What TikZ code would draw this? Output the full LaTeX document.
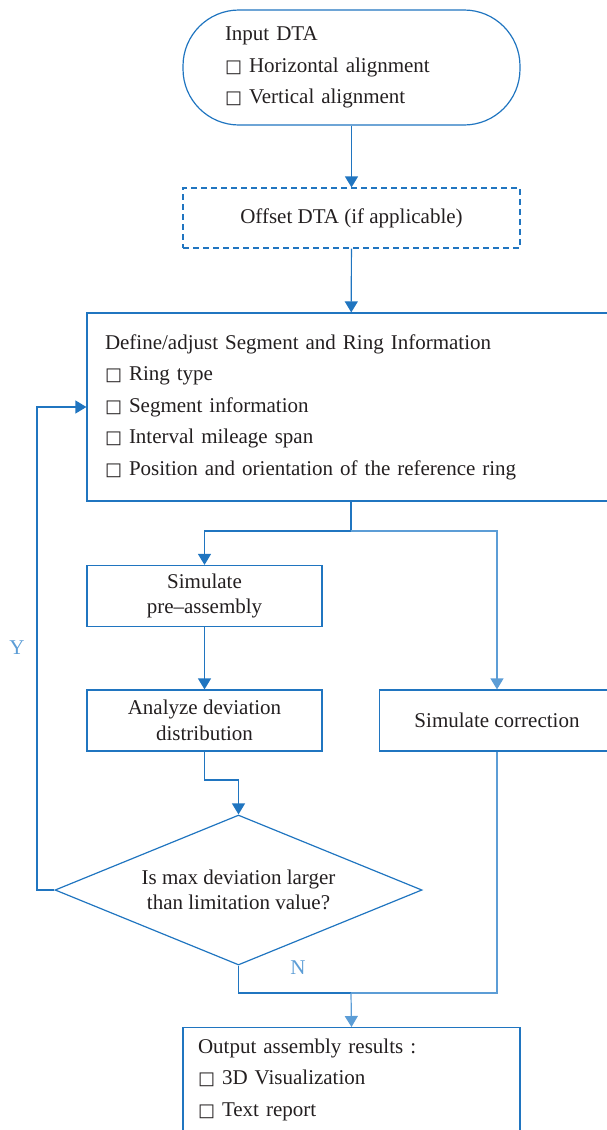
\documentclass[tikz,border=0pt]{standalone}
\usepackage{fontspec}
\setmainfont{Liberation Serif}
\newfontfamily\boxglyph{DejaVu Sans}
\usetikzlibrary{arrows.meta,shapes.geometric}
\definecolor{lineblue}{RGB}{32,117,192}
\definecolor{paleblue}{RGB}{92,157,214}
\definecolor{inkgray}{RGB}{35,31,32}
\newcommand{\chk}{{\boxglyph\fontsize{18}{18}\selectfont □}\ }
\tikzset{
  stepbox/.style={draw=lineblue, line width=1.2pt, text=inkgray, minimum height=61pt, align=center},
  listbox/.style={stepbox, align=left, font=\fontsize{21}{31.5}\selectfont},
  link/.style={lineblue, line width=1.2pt},
  flow/.style={link, -{Triangle[width=13pt,length=11pt]}},
}

\begin{document}
\begin{tikzpicture}[x=1pt, y=-1pt, font=\fontsize{21}{25.5}\selectfont]
  \useasboundingbox (0,0) rectangle (607,1130);
  \node[listbox, rounded corners=56pt, minimum width=337pt, minimum height=115pt,
        text width=253pt, inner xsep=42pt] (input) at (351.5,67.5)
        {Input DTA\\ \chk Horizontal alignment\\ \chk Vertical alignment};
  \node[stepbox, dashed, dash pattern=on 6pt off 4pt, minimum width=337pt,
        minimum height=60pt] (offset) at (351.5,218) {Offset DTA (if applicable)};
  \node[listbox, minimum width=528pt, minimum height=188pt, text width=492pt,
        inner xsep=18pt] (define) at (351,407)
        {Define/adjust Segment and Ring Information\\ \chk Ring type\\ \chk Segment information\\
         \chk Interval mileage span\\ \chk Position and orientation of the reference ring};
  \node[stepbox, minimum width=235pt] (sim) at (204.5,596) {Simulate\\pre–assembly};
  \node[stepbox, minimum width=235pt] (analyze) at (204.5,720.5) {Analyze deviation\\distribution};
  \node[stepbox, minimum width=235pt] (corr) at (497,720.5) {Simulate correction};
  \node[diamond, draw=lineblue, line width=1.2pt, text=inkgray, align=center, inner sep=0pt,
        minimum width=367pt, minimum height=150pt, aspect=2.45] (decide) at (238.5,890)
        {Is max deviation larger\\than limitation value?};
  \node[listbox, anchor=north, minimum width=337pt, minimum height=104pt, text width=307pt,
        inner xsep=15pt] (output) at (351.5,1027)
        {Output assembly results :\\ \chk 3D Visualization\\ \chk Text report};
  \node[text=paleblue] (ylab) at (17,648) {Y};
  \node[text=paleblue] (nlab) at (298,968) {N};

  \coordinate (split) at (351,531);
  \coordinate (bend) at (238.5,780);
  \coordinate (turn) at (37,890);
  \coordinate (join) at (351,993);

  \draw[flow] (input) -- (offset);
  \draw[flow] (offset) -- (define);
  \draw[link] (define.south) -- (split);
  \draw[flow] (split) -| (sim.north);
  \draw[flow, draw=paleblue] (split) -| (corr.north);
  \draw[flow] (sim) -- (analyze);
  \draw[link] (analyze.south) |- (bend);
  \draw[flow] (bend) -- (decide.north);
  \draw[flow] (decide.west) -- (turn) |- (define.west);
  \draw[link] (decide.south) |- (join);
  \draw[link, draw=paleblue] (corr.south) |- (join);
  \draw[flow, draw=paleblue] (join) -- (output.north);
\end{tikzpicture}
\end{document}
